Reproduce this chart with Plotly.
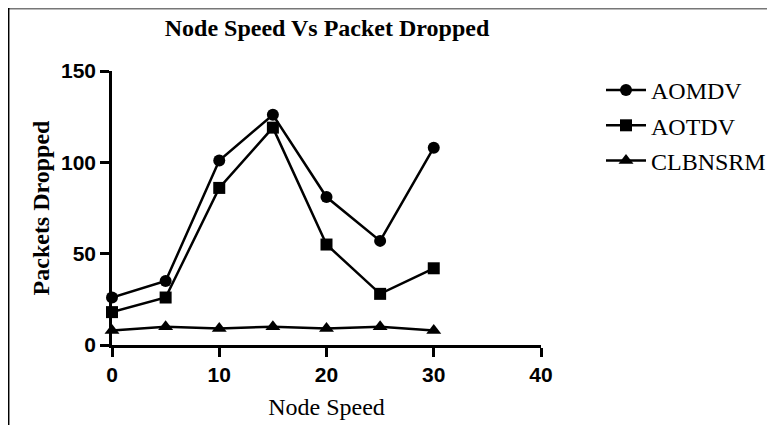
import plotly.graph_objects as go

node_speed = [0, 5, 10, 15, 20, 25, 30]
aomdv = [26, 35, 101, 126, 81, 57, 108]
aotdv = [18, 26, 86, 119, 55, 28, 42]
clbnsrm = [8, 10, 9, 10, 9, 10, 8]
x_ticks = [0, 10, 20, 30, 40]
y_ticks = [0, 50, 100, 150]

# page body has an 8px offset; coordinates below are relative to the figure div
OFF = 8
W, H = 775, 425
L, T = 112 - OFF, 71 - OFF
R = W - (541 - OFF)
B = H - (345 - OFF)
pw, ph = W - L - R, H - T - B

def px(x):
    return (x - OFF - L) / pw

def py(y):
    return (H - B - (y - OFF)) / ph

serif = "Liberation Serif"
sans = "Liberation Sans"

fig = go.Figure()
series = [("AOMDV", aomdv, "circle", 12), ("AOTDV", aotdv, "square", 12), ("CLBNSRM", clbnsrm, "triangle-up", 13)]
for name, vals, sym, sz in series:
    fig.add_trace(go.Scatter(
        x=node_speed, y=vals, name=name, mode="lines+markers",
        line=dict(color="black", width=2.5),
        marker=dict(symbol=sym, size=sz, color="black"),
        legendgroup=name, cliponaxis=False,
    ))

axis_common = dict(showgrid=False, zeroline=False, showline=True, linecolor="black", linewidth=2.5,
                   ticks="outside", ticklen=9, tickwidth=2.5, tickcolor="black",
                   tickfont=dict(family=sans, size=21, color="black", weight="bold"))

fig.update_layout(
    width=W, height=H,
    margin=dict(l=L, r=R, t=T, b=B),
    paper_bgcolor="white", plot_bgcolor="white",
    title=dict(text="Node Speed Vs Packet Dropped", x=px(327), xref="paper", xanchor="center",
               yref="container", y=1 - (28 - OFF) / H, yanchor="middle",
               font=dict(family=serif, size=24, color="black", weight="bold")),
    showlegend=True,
    legend=dict(x=px(601), y=py(68), xanchor="left", yanchor="top",
                font=dict(family=serif, size=24, color="black"),
                tracegroupgap=1, itemwidth=40, bgcolor="rgba(0,0,0,0)"),
    xaxis=dict(range=[0, 40], tickvals=x_ticks,
               title=dict(text="Node Speed", font=dict(family=serif, size=24, color="black"), standoff=14),
               **axis_common),
    yaxis=dict(range=[0, 150], tickvals=y_ticks,
               title=dict(text="Packets Dropped", font=dict(family=serif, size=24, color="black", weight="bold"),
                          standoff=5),
               **axis_common),
)

# image frame lines (top gray, left black)
fig.add_shape(type="line", xref="paper", yref="paper", x0=px(0), x1=px(W + 20), y0=py(8.5), y1=py(8.5),
              line=dict(color="#777777", width=2))
fig.add_shape(type="line", xref="paper", yref="paper", x0=px(8.7), x1=px(8.7), y0=py(8), y1=py(H + 20),
              line=dict(color="black", width=1.5))

fig.write_html("out.html")
